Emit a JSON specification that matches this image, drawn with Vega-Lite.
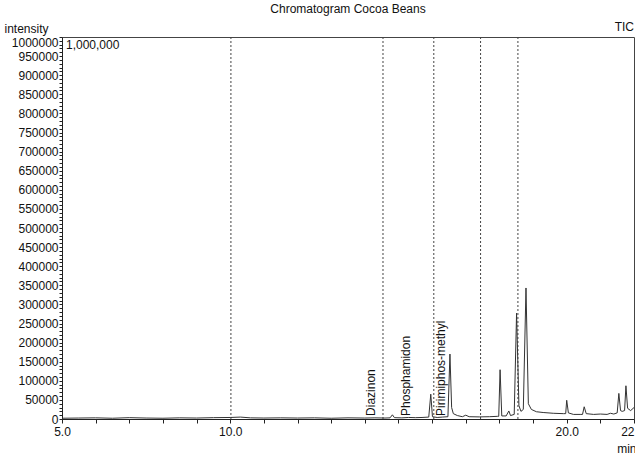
{
  "$schema": "https://vega.github.io/schema/vega-lite/v6.json",
  "width": 572,
  "height": 382,
  "autosize": {"type": "none"},
  "padding": {"left": 62, "top": 37, "right": 1, "bottom": 36},
  "title": {"text": "Chromatogram Cocoa Beans", "font": "Liberation Sans", "fontSize": 12, "fontWeight": "normal", "color": "#111", "anchor": "middle", "frame": "group", "offset": 5},
  "config": {
    "view": {"stroke": "#444", "strokeWidth": 1},
    "font": "Liberation Sans",
    "axis": {"grid": false, "domainColor": "#222", "tickColor": "#222", "labelColor": "#111", "labelFont": "Liberation Sans", "labelFontSize": 12, "titleFont": "Liberation Sans", "titleFontSize": 12, "titleFontWeight": "normal", "titleColor": "#111"}
  },
  "datasets": {
    "trace": [
      {"t": 5.0, "v": 2000}, {"t": 5.5, "v": 2500}, {"t": 6.0, "v": 3000}, {"t": 6.5, "v": 2000}, {"t": 7.0, "v": 3500}, {"t": 7.5, "v": 2500}, {"t": 8.0, "v": 2000}, {"t": 8.5, "v": 3000}, {"t": 9.0, "v": 2500}, {"t": 9.5, "v": 3500}, {"t": 10.0, "v": 4000}, {"t": 10.3, "v": 5000}, {"t": 10.6, "v": 3000}, {"t": 11.0, "v": 2500}, {"t": 11.5, "v": 3000}, {"t": 12.0, "v": 2500}, {"t": 12.5, "v": 3000}, {"t": 13.0, "v": 2000}, {"t": 13.5, "v": 3000}, {"t": 14.0, "v": 2500}, {"t": 14.3, "v": 3000}, {"t": 14.6, "v": 2500},
      {"t": 14.75, "v": 3000}, {"t": 14.82, "v": 11000}, {"t": 14.88, "v": 3500}, {"t": 15.1, "v": 3000}, {"t": 15.3, "v": 4000}, {"t": 15.5, "v": 3500}, {"t": 15.7, "v": 4000},
      {"t": 15.9, "v": 5000}, {"t": 15.96, "v": 65000}, {"t": 16.01, "v": 6000}, {"t": 16.15, "v": 4000}, {"t": 16.3, "v": 5000},
      {"t": 16.47, "v": 6000}, {"t": 16.53, "v": 170000}, {"t": 16.58, "v": 30000}, {"t": 16.63, "v": 14000}, {"t": 16.75, "v": 9000}, {"t": 16.9, "v": 6000}, {"t": 17.0, "v": 10000}, {"t": 17.1, "v": 6000}, {"t": 17.4, "v": 5500}, {"t": 17.7, "v": 6000}, {"t": 17.95, "v": 7000},
      {"t": 17.98, "v": 7000}, {"t": 18.02, "v": 129000}, {"t": 18.07, "v": 8000}, {"t": 18.2, "v": 8000}, {"t": 18.28, "v": 21000}, {"t": 18.33, "v": 9000},
      {"t": 18.44, "v": 12000}, {"t": 18.51, "v": 277000}, {"t": 18.58, "v": 35000}, {"t": 18.64, "v": 20000},
      {"t": 18.71, "v": 25000}, {"t": 18.79, "v": 343000}, {"t": 18.86, "v": 40000}, {"t": 18.95, "v": 25000}, {"t": 19.1, "v": 19000}, {"t": 19.3, "v": 17000}, {"t": 19.6, "v": 15000}, {"t": 19.9, "v": 14000},
      {"t": 19.97, "v": 14000}, {"t": 20.0, "v": 49000}, {"t": 20.05, "v": 16000}, {"t": 20.2, "v": 12000}, {"t": 20.4, "v": 12000},
      {"t": 20.47, "v": 12000}, {"t": 20.52, "v": 32000}, {"t": 20.58, "v": 14000}, {"t": 20.8, "v": 12000}, {"t": 21.0, "v": 13000}, {"t": 21.2, "v": 12000}, {"t": 21.3, "v": 15000}, {"t": 21.4, "v": 13000},
      {"t": 21.5, "v": 16000}, {"t": 21.55, "v": 67000}, {"t": 21.6, "v": 22000}, {"t": 21.65, "v": 20000},
      {"t": 21.72, "v": 22000}, {"t": 21.76, "v": 87000}, {"t": 21.81, "v": 28000}, {"t": 21.9, "v": 22000}, {"t": 22.0, "v": 30000}
    ],
    "markers": [{"t": 10.02, "v": 0, "v2": 1000000}, {"t": 14.54, "v": 0, "v2": 1000000}, {"t": 16.05, "v": 0, "v2": 1000000}, {"t": 17.44, "v": 0, "v2": 1000000}, {"t": 18.55, "v": 0, "v2": 1000000}],
    "compounds": [
      {"t": 14.17, "v": 8000, "name": "Diazinon"},
      {"t": 15.22, "v": 8000, "name": "Phosphamidon"},
      {"t": 16.25, "v": 8000, "name": "Pirimiphos-methyl"}
    ],
    "scaleNote": [{"t": 5.0, "v": 1000000, "name": "1,000,000"}],
    "ticNote": [{"t": 22.0, "v": 1000000, "name": "TIC"}]
  },
  "encoding": {
    "x": {"field": "t", "type": "quantitative", "scale": {"domain": [5, 22], "nice": false, "zero": false},
      "axis": {"title": "min", "titleAnchor": "end", "titleAlign": "right", "titleX": 574, "titleY": 33, "titleBaseline": "alphabetic",
        "values": [5,6,7,8,9,10,11,12,13,14,15,16,17,18,19,20,21,22],
        "labelExpr": "datum.value == 22 ? '22' : (datum.value == 5 || datum.value == 10 || datum.value == 20 ? format(datum.value, '.1f') : '')",
        "labelOverlap": false, "labelPadding": 3, "tickSize": 4,
        "labelAlign": {"condition": {"test": "datum.value == 22", "value": "right"}, "value": "center"}}},
    "y": {"field": "v", "type": "quantitative", "scale": {"domain": [0, 1000000], "nice": false},
      "axis": {"title": "intensity", "titleAngle": 0, "titleAlign": "left", "titleX": -58, "titleY": -5, "titleBaseline": "alphabetic",
        "values": [0,10000,20000,30000,40000,50000,60000,70000,80000,90000,100000,110000,120000,130000,140000,150000,160000,170000,180000,190000,200000,210000,220000,230000,240000,250000,260000,270000,280000,290000,300000,310000,320000,330000,340000,350000,360000,370000,380000,390000,400000,410000,420000,430000,440000,450000,460000,470000,480000,490000,500000,510000,520000,530000,540000,550000,560000,570000,580000,590000,600000,610000,620000,630000,640000,650000,660000,670000,680000,690000,700000,710000,720000,730000,740000,750000,760000,770000,780000,790000,800000,810000,820000,830000,840000,850000,860000,870000,880000,890000,900000,910000,920000,930000,940000,950000,960000,970000,980000,990000,1000000],
        "labelExpr": "datum.value % 50000 == 0 ? format(datum.value, 'd') : ''",
        "labelOverlap": false, "labelPadding": 1, "tickSize": 3,
        "labelBaseline": {"condition": {"test": "datum.value == 1000000", "value": "top"}, "value": "middle"}}}
  },
  "layer": [
    {
      "data": {"name": "markers"},
      "mark": {"type": "rule", "color": "#444", "strokeWidth": 1, "strokeDash": [2, 2]},
      "encoding": {"y2": {"field": "v2"}}
    },
    {
      "data": {"name": "trace"},
      "mark": {"type": "line", "color": "#333", "strokeWidth": 1, "interpolate": "linear"}
    },
    {
      "data": {"name": "compounds"},
      "mark": {"type": "text", "angle": 270, "align": "left", "baseline": "middle", "font": "Liberation Sans", "fontSize": 12, "color": "#111"},
      "encoding": {"text": {"field": "name"}}
    },
    {
      "data": {"name": "scaleNote"},
      "mark": {"type": "text", "align": "left", "baseline": "top", "dx": 4, "dy": 3, "font": "Liberation Sans", "fontSize": 12, "color": "#111"},
      "encoding": {"text": {"field": "name"}}
    },
    {
      "data": {"name": "ticNote"},
      "mark": {"type": "text", "align": "right", "baseline": "bottom", "dy": -3, "font": "Liberation Sans", "fontSize": 12, "color": "#111"},
      "encoding": {"text": {"field": "name"}}
    }
  ]
}
